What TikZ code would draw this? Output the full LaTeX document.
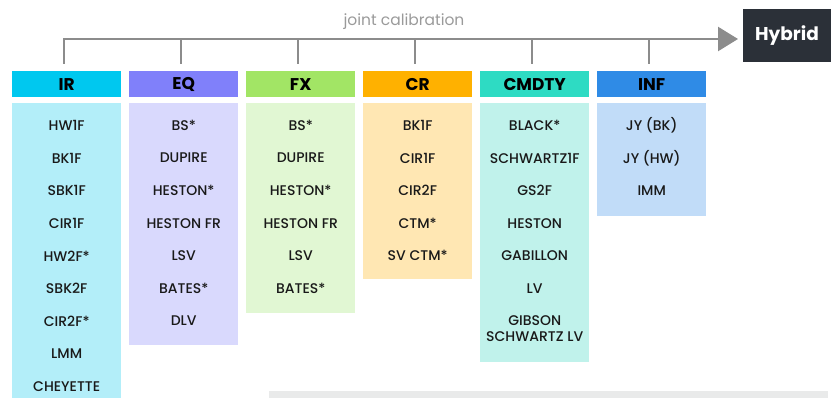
\documentclass[tikz,border=0pt]{standalone}
\usepackage{fontspec}
\setmainfont{Poppins}
\newfontfamily\itemfont{Poppins Medium}
\usetikzlibrary{arrows.meta,positioning}

\definecolor{irhead}{HTML}{00C8EF}
\definecolor{irbody}{HTML}{B3EEF9}
\definecolor{eqhead}{HTML}{8080FA}
\definecolor{eqbody}{HTML}{D9D9FD}
\definecolor{fxhead}{HTML}{A2E565}
\definecolor{fxbody}{HTML}{E1F7D3}
\definecolor{crhead}{HTML}{FFB100}
\definecolor{crbody}{HTML}{FFE7B3}
\definecolor{cmdtyhead}{HTML}{2EDBC3}
\definecolor{cmdtybody}{HTML}{C0F2EB}
\definecolor{infhead}{HTML}{2F8BE6}
\definecolor{infbody}{HTML}{C1DCF8}
\definecolor{railgray}{HTML}{8C8C8C}
\definecolor{labelgray}{HTML}{9A9A9A}
\definecolor{hybriddark}{HTML}{2B3038}
\definecolor{footgray}{HTML}{E9EAEA}

\begin{document}
\begin{tikzpicture}[%
    x=1pt, y=-1pt,
    head/.style={
        rectangle,
        inner sep=0pt,
        minimum width=109pt,
        minimum height=26pt,
        font=\bfseries\fontsize{17}{17}\selectfont},
    listbox/.style={
        rectangle,
        inner sep=0pt,
        minimum width=109pt},
    item/.style={
        inner sep=0pt,
        align=center,
        text=black!90,
        font=\itemfont\fontsize{14}{16}\selectfont},
    rail/.style={draw=railgray, line width=2.5pt},
    hybrid/.style={
        fill=hybriddark,
        text=white,
        inner sep=0pt,
        minimum width=88pt,
        minimum height=53pt,
        font=\bfseries\fontsize{18.5}{18.5}\selectfont},
]

\useasboundingbox (0,0) rectangle (837,398);

\node[hybrid] (hybrid) at (787,35.5) {Hybrid};
\coordinate (tip) at (738,39);
\node[text=labelgray, font=\fontsize{15.5}{15.5}\selectfont] (joint) at (404,22) {joint calibration};

\foreach \n/\l/\h/\items [count=\i] in {%
    ir/IR/296/{HW1F,BK1F,SBK1F,CIR1F,HW2F*,SBK2F,CIR2F*,LMM,CHEYETTE},
    eq/EQ/242/{BS*,DUPIRE,HESTON*,HESTON FR,LSV,BATES*,DLV},
    fx/FX/210/{BS*,DUPIRE,HESTON*,HESTON FR,LSV,BATES*},
    cr/CR/176/{BK1F,CIR1F,CIR2F,CTM*,SV CTM*},
    cmdty/CMDTY/259/{BLACK*,SCHWARTZ1F,GS2F,HESTON,GABILLON,LV},
    inf/INF/113/{JY (BK),JY (HW),IMM}}{
    \node[head, fill=\n head, anchor=north west] (\n) at ({12+117*(\i-1)},71) {\l};
    \node[listbox, fill=\n body, below=5pt of \n, minimum height=\h pt] (body-\n) {};
    \foreach \t [count=\j] in \items
        \node[item] (\n\j) at ([yshift={-23-32.6*(\j-1)}]body-\n.north) {\t};
    \draw[rail] ([shift={(-2.5pt,7pt)}]\n.north) -- ([xshift=-2.5pt]\n.north |- tip);
}

\node[item] (cmdty7) at ([yshift=-226pt]body-cmdty.north) {GIBSON\\SCHWARTZ LV};

% joint calibration rail
\draw[rail, -{Triangle[length=20pt,width=24pt]}] ([shift={(-2.5pt,7pt)}]ir.north) |- (tip);

\node[fill=footgray, inner sep=0pt, minimum width=559pt, minimum height=7pt,
      anchor=south west] (footer) at (269,398) {};
\end{tikzpicture}
\end{document}
